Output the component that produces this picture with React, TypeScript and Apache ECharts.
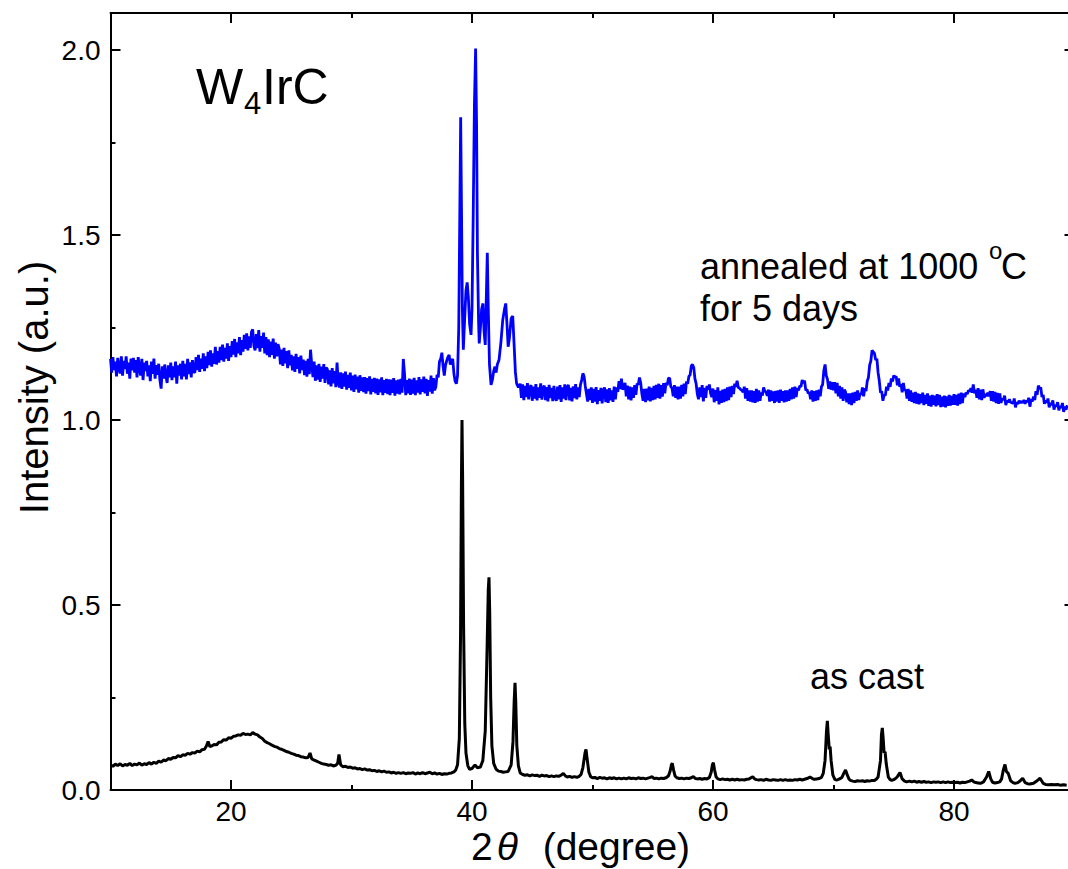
import React, { useEffect, useRef } from "react";
import * as echarts from "echarts";

// ---- tick values ----
const xTicks = [20, 40, 60, 80];
const xMinorTicks = [30, 50, 70];
const yTicks = [0, 0.5, 1.0, 1.5, 2.0];
const yMinorTicks = [0.25, 0.75, 1.25, 1.75];

// ---- series: as cast (black) [2theta, intensity] ----
const asCast: number[][] = [
  [10.0, 0.068], [10.2, 0.064], [10.4, 0.07], [10.6, 0.066], [10.8, 0.071], [11.0, 0.065], [11.2, 0.069],
  [11.4, 0.067], [11.6, 0.072], [11.8, 0.066], [12.0, 0.07], [12.2, 0.068], [12.4, 0.073], [12.6, 0.067],
  [12.8, 0.071], [13.0, 0.069], [13.2, 0.074], [13.4, 0.07], [13.6, 0.075], [13.8, 0.072], [14.0, 0.078],
  [14.2, 0.075], [14.4, 0.081], [14.6, 0.079], [14.8, 0.085], [15.0, 0.083], [15.2, 0.088], [15.4, 0.087],
  [15.6, 0.093], [15.8, 0.09], [16.0, 0.095], [16.2, 0.094], [16.4, 0.099], [16.6, 0.097], [16.8, 0.101],
  [17.0, 0.1], [17.2, 0.105], [17.4, 0.103], [17.6, 0.109], [17.8, 0.11], [17.95, 0.118], [18.1, 0.131],
  [18.25, 0.117], [18.4, 0.119], [18.6, 0.123], [18.8, 0.122], [19.0, 0.129], [19.2, 0.13], [19.4, 0.136],
  [19.6, 0.135], [19.8, 0.141], [20.0, 0.14], [20.2, 0.145], [20.4, 0.146], [20.6, 0.149], [20.8, 0.148],
  [21.0, 0.153], [21.2, 0.15], [21.4, 0.151], [21.6, 0.149], [21.8, 0.155], [22.0, 0.151], [22.2, 0.149],
  [22.4, 0.143], [22.6, 0.139], [22.8, 0.132], [23.0, 0.128], [23.2, 0.125], [23.4, 0.121], [23.6, 0.118],
  [23.8, 0.116], [24.0, 0.112], [24.2, 0.11], [24.4, 0.107], [24.6, 0.104], [24.8, 0.102], [25.0, 0.099],
  [25.2, 0.097], [25.4, 0.094], [25.6, 0.093], [25.8, 0.09], [26.0, 0.089], [26.2, 0.087], [26.4, 0.088],
  [26.56, 0.1], [26.7, 0.084], [26.9, 0.081], [27.1, 0.078], [27.3, 0.075], [27.5, 0.072], [27.7, 0.07],
  [27.9, 0.069], [28.1, 0.067], [28.3, 0.068], [28.5, 0.065], [28.7, 0.067], [28.85, 0.072], [28.96, 0.096],
  [29.1, 0.068], [29.3, 0.063], [29.5, 0.064], [29.7, 0.061], [29.9, 0.062], [30.1, 0.059], [30.3, 0.06],
  [30.5, 0.057], [30.7, 0.058], [30.9, 0.055], [31.1, 0.057], [31.3, 0.054], [31.5, 0.055], [31.7, 0.052],
  [31.9, 0.053], [32.1, 0.05], [32.3, 0.052], [32.5, 0.049], [32.7, 0.051], [32.9, 0.048], [33.1, 0.049],
  [33.3, 0.046], [33.5, 0.048], [33.7, 0.045], [33.9, 0.047], [34.1, 0.045], [34.3, 0.047], [34.5, 0.044],
  [34.7, 0.046], [34.9, 0.045], [35.1, 0.047], [35.3, 0.043], [35.5, 0.046], [35.7, 0.044], [35.9, 0.047],
  [36.1, 0.044], [36.3, 0.046], [36.5, 0.048], [36.7, 0.044], [36.9, 0.046], [37.1, 0.043], [37.3, 0.045],
  [37.5, 0.042], [37.7, 0.044], [37.9, 0.043], [38.1, 0.045], [38.3, 0.046], [38.5, 0.049], [38.65, 0.054],
  [38.8, 0.068], [38.95, 0.14], [39.05, 0.42], [39.12, 0.82], [39.17, 1.0], [39.22, 0.85], [39.3, 0.45],
  [39.4, 0.18], [39.5, 0.1], [39.65, 0.066], [39.8, 0.056], [40.0, 0.058], [40.25, 0.068], [40.45, 0.06],
  [40.7, 0.062], [40.9, 0.08], [41.1, 0.16], [41.25, 0.38], [41.35, 0.54], [41.41, 0.575], [41.47, 0.48],
  [41.55, 0.25], [41.65, 0.12], [41.8, 0.072], [42.0, 0.056], [42.2, 0.051], [42.4, 0.05], [42.6, 0.048],
  [42.8, 0.049], [43.0, 0.05], [43.25, 0.068], [43.4, 0.13], [43.5, 0.24], [43.57, 0.29], [43.63, 0.24],
  [43.72, 0.12], [43.85, 0.065], [44.0, 0.046], [44.2, 0.042], [44.4, 0.04], [44.6, 0.041], [44.8, 0.038],
  [45.0, 0.041], [45.2, 0.039], [45.4, 0.04], [45.6, 0.037], [45.8, 0.04], [46.0, 0.038], [46.2, 0.039],
  [46.4, 0.036], [46.6, 0.038], [46.8, 0.036], [47.0, 0.038], [47.2, 0.037], [47.4, 0.04], [47.58, 0.045],
  [47.75, 0.038], [47.9, 0.035], [48.1, 0.037], [48.3, 0.034], [48.5, 0.036], [48.7, 0.034], [48.9, 0.037],
  [49.05, 0.042], [49.2, 0.06], [49.38, 0.1], [49.46, 0.11], [49.55, 0.085], [49.7, 0.048], [49.85, 0.036],
  [50.0, 0.033], [50.2, 0.034], [50.4, 0.031], [50.6, 0.034], [50.8, 0.032], [51.0, 0.033], [51.2, 0.03],
  [51.4, 0.033], [51.6, 0.031], [51.8, 0.033], [52.0, 0.03], [52.2, 0.032], [52.4, 0.03], [52.6, 0.032],
  [52.8, 0.03], [53.0, 0.033], [53.2, 0.031], [53.4, 0.032], [53.6, 0.03], [53.8, 0.033], [54.0, 0.031],
  [54.2, 0.032], [54.4, 0.03], [54.6, 0.032], [54.8, 0.034], [54.95, 0.036], [55.1, 0.031], [55.3, 0.032],
  [55.5, 0.03], [55.7, 0.032], [55.9, 0.031], [56.1, 0.033], [56.3, 0.038], [56.45, 0.052], [56.55, 0.068],
  [56.62, 0.072], [56.72, 0.055], [56.85, 0.038], [57.0, 0.033], [57.2, 0.031], [57.4, 0.032], [57.6, 0.03],
  [57.8, 0.032], [58.0, 0.031], [58.2, 0.033], [58.37, 0.036], [58.55, 0.031], [58.7, 0.03], [58.9, 0.031],
  [59.1, 0.029], [59.3, 0.031], [59.5, 0.03], [59.7, 0.034], [59.85, 0.048], [59.95, 0.068], [60.03, 0.074],
  [60.12, 0.056], [60.25, 0.036], [60.4, 0.03], [60.6, 0.028], [60.8, 0.03], [61.0, 0.028], [61.2, 0.029],
  [61.4, 0.027], [61.6, 0.029], [61.8, 0.027], [62.0, 0.029], [62.2, 0.027], [62.4, 0.028], [62.6, 0.027],
  [62.8, 0.029], [63.0, 0.03], [63.15, 0.033], [63.3, 0.036], [63.45, 0.03], [63.6, 0.028], [63.8, 0.027],
  [64.0, 0.028], [64.2, 0.026], [64.4, 0.029], [64.6, 0.027], [64.8, 0.026], [65.0, 0.028], [65.2, 0.027],
  [65.4, 0.026], [65.6, 0.028], [65.8, 0.026], [66.0, 0.028], [66.2, 0.026], [66.4, 0.027], [66.6, 0.026],
  [66.8, 0.028], [67.0, 0.027], [67.2, 0.029], [67.4, 0.027], [67.6, 0.029], [67.8, 0.031], [68.05, 0.035],
  [68.25, 0.031], [68.4, 0.029], [68.6, 0.03], [68.8, 0.031], [69.0, 0.034], [69.15, 0.045], [69.3, 0.08],
  [69.42, 0.16], [69.49, 0.187], [69.56, 0.15], [69.65, 0.11], [69.72, 0.117], [69.8, 0.08], [69.95, 0.04],
  [70.12, 0.028], [70.3, 0.027], [70.5, 0.03], [70.7, 0.034], [70.85, 0.045], [71.0, 0.054], [71.15, 0.04],
  [71.3, 0.029], [71.4, 0.026], [71.6, 0.024], [71.8, 0.023], [72.0, 0.025], [72.2, 0.024], [72.4, 0.025],
  [72.6, 0.023], [72.8, 0.025], [73.0, 0.024], [73.2, 0.026], [73.4, 0.026], [73.55, 0.029], [73.7, 0.035],
  [73.9, 0.08], [73.98, 0.15], [74.05, 0.168], [74.12, 0.14], [74.2, 0.1], [74.28, 0.104], [74.38, 0.07],
  [74.55, 0.035], [74.7, 0.028], [74.83, 0.026], [75.0, 0.028], [75.15, 0.031], [75.3, 0.036], [75.52, 0.047],
  [75.7, 0.03], [75.9, 0.024], [76.07, 0.022], [76.3, 0.024], [76.5, 0.022], [76.7, 0.024], [76.9, 0.021],
  [77.1, 0.023], [77.3, 0.021], [77.5, 0.023], [77.7, 0.021], [77.9, 0.022], [78.1, 0.02], [78.3, 0.022],
  [78.5, 0.021], [78.7, 0.022], [78.9, 0.02], [79.1, 0.022], [79.3, 0.02], [79.5, 0.022], [79.7, 0.02],
  [79.9, 0.021], [80.1, 0.02], [80.3, 0.021], [80.5, 0.019], [80.7, 0.021], [80.9, 0.02], [81.1, 0.022],
  [81.3, 0.024], [81.47, 0.027], [81.65, 0.022], [81.8, 0.02], [82.0, 0.019], [82.2, 0.018], [82.45, 0.022],
  [82.7, 0.035], [82.88, 0.05], [83.05, 0.03], [83.2, 0.021], [83.4, 0.019], [83.6, 0.02], [83.8, 0.022],
  [83.95, 0.03], [84.1, 0.055], [84.23, 0.069], [84.35, 0.05], [84.5, 0.045], [84.7, 0.025], [84.9, 0.02],
  [85.06, 0.018], [85.3, 0.02], [85.5, 0.025], [85.7, 0.032], [85.9, 0.02], [86.1, 0.017], [86.3, 0.016],
  [86.6, 0.018], [86.9, 0.025], [87.14, 0.032], [87.4, 0.018], [87.6, 0.015], [87.83, 0.014], [88.1, 0.015],
  [88.3, 0.014], [88.6, 0.015], [88.8, 0.013], [89.1, 0.014], [89.35, 0.013],
];

// ---- series: annealed at 1000 C for 5 days (blue) ----
const annealed: number[][] = [
  [10.0, 1.165], [10.1, 1.128], [10.2, 1.17], [10.3, 1.135], [10.4, 1.158], [10.5, 1.118], [10.6, 1.168], [10.7, 1.142], [10.8, 1.126], [10.9, 1.172],
  [11.0, 1.12], [11.1, 1.16], [11.2, 1.138], [11.3, 1.172], [11.4, 1.125], [11.5, 1.155], [11.6, 1.112], [11.7, 1.166], [11.8, 1.134], [11.9, 1.168],
  [12.0, 1.128], [12.1, 1.162], [12.2, 1.115], [12.3, 1.17], [12.4, 1.14], [12.5, 1.12], [12.6, 1.165], [12.7, 1.108], [12.8, 1.155], [12.9, 1.132],
  [13.0, 1.16], [13.1, 1.118], [13.2, 1.148], [13.3, 1.105], [13.4, 1.158], [13.5, 1.125], [13.6, 1.166], [13.7, 1.112], [13.8, 1.148], [13.9, 1.122],
  [14.0, 1.152], [14.1, 1.108], [14.2, 1.085], [14.3, 1.145], [14.4, 1.112], [14.5, 1.15], [14.6, 1.118], [14.7, 1.1], [14.8, 1.148], [14.9, 1.115],
  [15.0, 1.155], [15.1, 1.108], [15.2, 1.145], [15.3, 1.115], [15.4, 1.158], [15.5, 1.098], [15.6, 1.148], [15.7, 1.12], [15.8, 1.152], [15.9, 1.11],
  [16.0, 1.16], [16.1, 1.118], [16.2, 1.152], [16.3, 1.11], [16.4, 1.165], [16.5, 1.124], [16.6, 1.156], [16.7, 1.115], [16.8, 1.162], [16.9, 1.13],
  [17.0, 1.128], [17.1, 1.17], [17.2, 1.135], [17.3, 1.176], [17.4, 1.13], [17.5, 1.166], [17.6, 1.138], [17.7, 1.18], [17.8, 1.132], [17.9, 1.172],
  [18.0, 1.14], [18.1, 1.184], [18.2, 1.148], [18.3, 1.188], [18.4, 1.144], [18.5, 1.18], [18.6, 1.152], [18.7, 1.198], [18.8, 1.15], [18.9, 1.186],
  [19.0, 1.155], [19.1, 1.198], [19.2, 1.162], [19.3, 1.204], [19.4, 1.158], [19.5, 1.195], [19.6, 1.166], [19.7, 1.207], [19.8, 1.16], [19.9, 1.2],
  [20.0, 1.17], [20.1, 1.213], [20.2, 1.177], [20.3, 1.219], [20.4, 1.17], [20.5, 1.21], [20.6, 1.18], [20.7, 1.224], [20.8, 1.175], [20.9, 1.216],
  [21.0, 1.185], [21.1, 1.23], [21.2, 1.192], [21.3, 1.234], [21.4, 1.188], [21.5, 1.226], [21.6, 1.195], [21.7, 1.238], [21.8, 1.245], [21.9, 1.2],
  [22.0, 1.188], [22.1, 1.232], [22.2, 1.194], [22.3, 1.243], [22.4, 1.185], [22.5, 1.227], [22.6, 1.195], [22.7, 1.236], [22.8, 1.18], [22.9, 1.224],
  [23.0, 1.175], [23.1, 1.218], [23.2, 1.17], [23.3, 1.212], [23.4, 1.176], [23.5, 1.22], [23.6, 1.166], [23.7, 1.209], [23.8, 1.172], [23.9, 1.205],
  [24.0, 1.193], [24.1, 1.15], [24.2, 1.19], [24.3, 1.146], [24.4, 1.195], [24.5, 1.153], [24.6, 1.186], [24.7, 1.14], [24.8, 1.188], [24.9, 1.148],
  [25.0, 1.176], [25.1, 1.134], [25.2, 1.172], [25.3, 1.13], [25.4, 1.179], [25.5, 1.138], [25.6, 1.17], [25.7, 1.126], [25.8, 1.174], [25.9, 1.135],
  [26.0, 1.163], [26.1, 1.121], [26.2, 1.16], [26.3, 1.117], [26.4, 1.165], [26.5, 1.124], [26.6, 1.19], [26.7, 1.15], [26.8, 1.116], [26.9, 1.158],
  [27.0, 1.106], [27.1, 1.148], [27.2, 1.109], [27.3, 1.152], [27.4, 1.103], [27.5, 1.144], [27.6, 1.112], [27.7, 1.151], [27.8, 1.1], [27.9, 1.142],
  [28.0, 1.137], [28.1, 1.096], [28.2, 1.134], [28.3, 1.091], [28.4, 1.14], [28.5, 1.099], [28.6, 1.132], [28.7, 1.089], [28.8, 1.155], [28.9, 1.1],
  [29.0, 1.088], [29.1, 1.129], [29.2, 1.084], [29.3, 1.126], [29.4, 1.09], [29.5, 1.131], [29.6, 1.082], [29.7, 1.122], [29.8, 1.087], [29.9, 1.128],
  [30.0, 1.08], [30.1, 1.12], [30.2, 1.076], [30.3, 1.123], [30.4, 1.083], [30.5, 1.117], [30.6, 1.074], [30.7, 1.121], [30.8, 1.079], [30.9, 1.115],
  [31.0, 1.075], [31.1, 1.116], [31.2, 1.071], [31.3, 1.113], [31.4, 1.078], [31.5, 1.118], [31.6, 1.069], [31.7, 1.111], [31.8, 1.076], [31.9, 1.114],
  [32.0, 1.072], [32.1, 1.112], [32.2, 1.068], [32.3, 1.11], [32.4, 1.075], [32.5, 1.115], [32.6, 1.067], [32.7, 1.108], [32.8, 1.073], [32.9, 1.111],
  [33.0, 1.07], [33.1, 1.11], [33.2, 1.067], [33.3, 1.109], [33.4, 1.073], [33.5, 1.113], [33.6, 1.066], [33.7, 1.107], [33.8, 1.071], [33.9, 1.109],
  [34.0, 1.069], [34.1, 1.111], [34.2, 1.074], [34.3, 1.165], [34.4, 1.125], [34.5, 1.067], [34.6, 1.108], [34.7, 1.072], [34.8, 1.112], [34.9, 1.068],
  [35.0, 1.109], [35.1, 1.071], [35.2, 1.114], [35.3, 1.067], [35.4, 1.107], [35.5, 1.074], [35.6, 1.116], [35.7, 1.069], [35.8, 1.11], [35.9, 1.076],
  [36.0, 1.117], [36.1, 1.072], [36.2, 1.111], [36.3, 1.065], [36.4, 1.108], [36.5, 1.077], [36.6, 1.12], [36.7, 1.071], [36.8, 1.113], [36.9, 1.08],
  [37.0, 1.09], [37.1, 1.122], [37.2, 1.115], [37.3, 1.158], [37.4, 1.165], [37.5, 1.182], [37.6, 1.145], [37.7, 1.12], [37.8, 1.148], [37.9, 1.16],
  [38.0, 1.17], [38.1, 1.176], [38.2, 1.15], [38.3, 1.158], [38.4, 1.165], [38.5, 1.125], [38.6, 1.105], [38.7, 1.098], [38.8, 1.12],
  [38.9, 1.25], [39.0, 1.6], [39.06, 1.818], [39.12, 1.6], [39.2, 1.3], [39.28, 1.19], [39.4, 1.28], [39.5, 1.35],
  [39.6, 1.372], [39.7, 1.33], [39.8, 1.26], [39.92, 1.23], [40.0, 1.3], [40.1, 1.55], [40.2, 1.85], [40.3, 2.004],
  [40.38, 1.8], [40.45, 1.45], [40.55, 1.26], [40.6, 1.207], [40.7, 1.25], [40.8, 1.3], [40.91, 1.315], [41.0, 1.24],
  [41.1, 1.203], [41.18, 1.32], [41.27, 1.452], [41.35, 1.3], [41.45, 1.15], [41.58, 1.095], [41.7, 1.11], [41.8, 1.132],
  [41.9, 1.144], [42.0, 1.128], [42.1, 1.15], [42.24, 1.162], [42.4, 1.21], [42.55, 1.27], [42.7, 1.3], [42.8, 1.315],
  [42.9, 1.26], [43.0, 1.198], [43.1, 1.22], [43.25, 1.275], [43.38, 1.281], [43.5, 1.2], [43.6, 1.13], [43.7, 1.099],
  [43.85, 1.088],
  [44.0, 1.098], [44.1, 1.06], [44.2, 1.096], [44.3, 1.054], [44.4, 1.092], [44.5, 1.062], [44.6, 1.1], [44.7, 1.056], [44.8, 1.088], [44.9, 1.094],
  [45.0, 1.052], [45.1, 1.09], [45.2, 1.058], [45.3, 1.097], [45.4, 1.053], [45.5, 1.088], [45.6, 1.06], [45.7, 1.099], [45.8, 1.055], [45.9, 1.086],
  [46.0, 1.093], [46.1, 1.054], [46.2, 1.089], [46.3, 1.05], [46.4, 1.095], [46.5, 1.059], [46.6, 1.087], [46.7, 1.051], [46.8, 1.092], [46.9, 1.06],
  [47.0, 1.052], [47.1, 1.09], [47.2, 1.056], [47.3, 1.094], [47.4, 1.049], [47.5, 1.088], [47.6, 1.058], [47.7, 1.096], [47.8, 1.054], [47.9, 1.089],
  [48.0, 1.095], [48.1, 1.053], [48.2, 1.087], [48.3, 1.05], [48.4, 1.091], [48.5, 1.059], [48.6, 1.097], [48.7, 1.056], [48.8, 1.088], [48.9, 1.062],
  [49.0, 1.095], [49.1, 1.108], [49.2, 1.126], [49.3, 1.118], [49.4, 1.092], [49.5, 1.07], [49.6, 1.05], [49.7, 1.084], [49.8, 1.054], [49.9, 1.088],
  [50.0, 1.046], [50.1, 1.084], [50.2, 1.05], [50.3, 1.089], [50.4, 1.043], [50.5, 1.081], [50.6, 1.052], [50.7, 1.087], [50.8, 1.045], [50.9, 1.08],
  [51.0, 1.088], [51.1, 1.048], [51.2, 1.083], [51.3, 1.046], [51.4, 1.086], [51.5, 1.053], [51.6, 1.08], [51.7, 1.049], [51.8, 1.09], [51.9, 1.056],
  [52.0, 1.088], [52.1, 1.076], [52.2, 1.105], [52.3, 1.084], [52.4, 1.112], [52.5, 1.082], [52.6, 1.09], [52.7, 1.1], [52.8, 1.064], [52.9, 1.093],
  [53.0, 1.056], [53.1, 1.09], [53.2, 1.053], [53.3, 1.088], [53.4, 1.06], [53.5, 1.094], [53.6, 1.068], [53.7, 1.098], [53.8, 1.096], [53.9, 1.115],
  [54.0, 1.1], [54.1, 1.07], [54.2, 1.052], [54.3, 1.084], [54.4, 1.048], [54.5, 1.085], [54.6, 1.053], [54.7, 1.09], [54.8, 1.05], [54.9, 1.087],
  [55.0, 1.054], [55.1, 1.092], [55.2, 1.056], [55.3, 1.095], [55.4, 1.06], [55.5, 1.098], [55.6, 1.058], [55.7, 1.094], [55.8, 1.063], [55.9, 1.1],
  [56.0, 1.072], [56.1, 1.1], [56.2, 1.094], [56.3, 1.112], [56.4, 1.114], [56.5, 1.09], [56.6, 1.086], [56.7, 1.064], [56.8, 1.094], [56.9, 1.06],
  [57.0, 1.09], [57.1, 1.056], [57.2, 1.09], [57.3, 1.058], [57.4, 1.095], [57.5, 1.064], [57.6, 1.098], [57.7, 1.07], [57.8, 1.104], [57.9, 1.098],
  [58.0, 1.118], [58.1, 1.122], [58.2, 1.146], [58.3, 1.15], [58.4, 1.142], [58.5, 1.112], [58.6, 1.098], [58.7, 1.07], [58.8, 1.056], [58.9, 1.088],
  [59.0, 1.062], [59.1, 1.094], [59.2, 1.05], [59.3, 1.087], [59.4, 1.06], [59.5, 1.092], [59.6, 1.082], [59.7, 1.096], [59.8, 1.072], [59.9, 1.062],
  [60.0, 1.085], [60.1, 1.048], [60.2, 1.081], [60.3, 1.052], [60.4, 1.088], [60.5, 1.042], [60.6, 1.079], [60.7, 1.046], [60.8, 1.082], [60.9, 1.048],
  [61.0, 1.084], [61.1, 1.051], [61.2, 1.088], [61.3, 1.054], [61.4, 1.09], [61.5, 1.062], [61.6, 1.092], [61.7, 1.07], [61.8, 1.098], [61.9, 1.09],
  [62.0, 1.106], [62.1, 1.088], [62.2, 1.086], [62.3, 1.082], [62.4, 1.08], [62.5, 1.075], [62.6, 1.09], [62.7, 1.058], [62.8, 1.086], [62.9, 1.052],
  [63.0, 1.08], [63.1, 1.05], [63.2, 1.08], [63.3, 1.048], [63.4, 1.078], [63.5, 1.046], [63.6, 1.084], [63.7, 1.05], [63.8, 1.08], [63.9, 1.052],
  [64.0, 1.074], [64.1, 1.066], [64.2, 1.088], [64.3, 1.078], [64.4, 1.076], [64.5, 1.065], [64.6, 1.082], [64.7, 1.05], [64.8, 1.08], [64.9, 1.052],
  [65.0, 1.077], [65.1, 1.046], [65.2, 1.079], [65.3, 1.05], [65.4, 1.08], [65.5, 1.046], [65.6, 1.082], [65.7, 1.052], [65.8, 1.078], [65.9, 1.048],
  [66.0, 1.08], [66.1, 1.05], [66.2, 1.08], [66.3, 1.052], [66.4, 1.084], [66.5, 1.056], [66.6, 1.088], [66.7, 1.058], [66.8, 1.09], [66.9, 1.062],
  [67.0, 1.086], [67.1, 1.08], [67.2, 1.092], [67.3, 1.09], [67.4, 1.108], [67.5, 1.1], [67.6, 1.106], [67.7, 1.08], [67.8, 1.083], [67.9, 1.072],
  [68.0, 1.075], [68.1, 1.056], [68.2, 1.08], [68.3, 1.05], [68.4, 1.078], [68.5, 1.052], [68.6, 1.08], [68.7, 1.054], [68.8, 1.082], [68.9, 1.064],
  [69.0, 1.09], [69.1, 1.096], [69.2, 1.134], [69.3, 1.15], [69.4, 1.12], [69.5, 1.11], [69.6, 1.084], [69.7, 1.104], [69.8, 1.082], [69.9, 1.102],
  [70.0, 1.08], [70.1, 1.102], [70.2, 1.072], [70.3, 1.1], [70.4, 1.064], [70.5, 1.092], [70.6, 1.058], [70.7, 1.088], [70.8, 1.052], [70.9, 1.082],
  [71.0, 1.076], [71.1, 1.048], [71.2, 1.072], [71.3, 1.043], [71.4, 1.072], [71.5, 1.04], [71.6, 1.074], [71.7, 1.046], [71.8, 1.076], [71.9, 1.052],
  [72.0, 1.08], [72.1, 1.054], [72.2, 1.072], [72.3, 1.068], [72.4, 1.088], [72.5, 1.064], [72.6, 1.086], [72.7, 1.078], [72.8, 1.105], [72.9, 1.115],
  [73.0, 1.148], [73.1, 1.16], [73.2, 1.188], [73.3, 1.184], [73.4, 1.18], [73.5, 1.162], [73.6, 1.166], [73.7, 1.128], [73.8, 1.106], [73.9, 1.074],
  [74.0, 1.078], [74.1, 1.052], [74.2, 1.068], [74.3, 1.066], [74.4, 1.09], [74.5, 1.08], [74.6, 1.1], [74.7, 1.09], [74.8, 1.112], [74.9, 1.104],
  [75.0, 1.12], [75.1, 1.116], [75.2, 1.118], [75.3, 1.094], [75.4, 1.112], [75.5, 1.09], [75.6, 1.097], [75.7, 1.075], [75.8, 1.1], [75.9, 1.08],
  [76.0, 1.082], [76.1, 1.058], [76.2, 1.084], [76.3, 1.052], [76.4, 1.08], [76.5, 1.049], [76.6, 1.074], [76.7, 1.046], [76.8, 1.076], [76.9, 1.044],
  [77.0, 1.072], [77.1, 1.042], [77.2, 1.07], [77.3, 1.046], [77.4, 1.074], [77.5, 1.04], [77.6, 1.068], [77.7, 1.044], [77.8, 1.072], [77.9, 1.038],
  [78.0, 1.066], [78.1, 1.036], [78.2, 1.068], [78.3, 1.041], [78.4, 1.066], [78.5, 1.037], [78.6, 1.07], [78.7, 1.04], [78.8, 1.068], [78.9, 1.035],
  [79.0, 1.063], [79.1, 1.036], [79.2, 1.066], [79.3, 1.034], [79.4, 1.064], [79.5, 1.038], [79.6, 1.068], [79.7, 1.039], [79.8, 1.065], [79.9, 1.041],
  [80.0, 1.07], [80.1, 1.041], [80.2, 1.068], [80.3, 1.039], [80.4, 1.071], [80.5, 1.043], [80.6, 1.074], [80.7, 1.046], [80.8, 1.072], [80.9, 1.062],
  [81.0, 1.074], [81.1, 1.07], [81.2, 1.08], [81.3, 1.077], [81.4, 1.086], [81.5, 1.074], [81.6, 1.096], [81.7, 1.072], [81.8, 1.082], [81.9, 1.06],
  [82.0, 1.086], [82.1, 1.056], [82.2, 1.082], [82.3, 1.054], [82.4, 1.083], [82.5, 1.06], [82.6, 1.07], [82.7, 1.065], [82.8, 1.074], [82.9, 1.064],
  [83.0, 1.078], [83.1, 1.052], [83.2, 1.078], [83.3, 1.05], [83.4, 1.076], [83.5, 1.046], [83.6, 1.073], [83.7, 1.044], [83.8, 1.072], [83.9, 1.046],
  [84.0, 1.058], [84.1, 1.054], [84.2, 1.066], [84.3, 1.04], [84.4, 1.053], [84.5, 1.048], [84.6, 1.056], [84.7, 1.047], [84.8, 1.048], [84.9, 1.044],
  [85.0, 1.058], [85.1, 1.034], [85.2, 1.048], [85.3, 1.043], [85.4, 1.052], [85.5, 1.046], [85.6, 1.05], [85.7, 1.047], [85.8, 1.054], [85.9, 1.044],
  [86.0, 1.053], [86.1, 1.048], [86.2, 1.06], [86.3, 1.036], [86.4, 1.056], [86.5, 1.05], [86.6, 1.063], [86.7, 1.054], [86.8, 1.078], [86.9, 1.068],
  [87.0, 1.093], [87.1, 1.084], [87.2, 1.088], [87.3, 1.062], [87.4, 1.068], [87.5, 1.044], [87.6, 1.053], [87.7, 1.047], [87.8, 1.058], [87.9, 1.034],
  [88.0, 1.046], [88.1, 1.04], [88.2, 1.053], [88.3, 1.028], [88.4, 1.04], [88.5, 1.036], [88.6, 1.048], [88.7, 1.026], [88.8, 1.038], [88.9, 1.033],
  [89.0, 1.046], [89.1, 1.022], [89.2, 1.036], [89.3, 1.028], [89.4, 1.04],
];

const FONT = "'Liberation Sans', Arial, sans-serif";

export default function App() {
  const ref = useRef<HTMLDivElement>(null);

  useEffect(() => {
    if (!ref.current) return;
    const chart = echarts.init(ref.current, null, { renderer: "svg" });

    const xRange = { type: "value" as const, min: 10, max: 90, gridIndex: 0 };
    const yRange = { type: "value" as const, min: 0, max: 2.1, gridIndex: 0 };
    const lineSt = { color: "#000", width: 2 };

    const majorX = (position: "bottom" | "top", labels: boolean) => ({
      ...xRange,
      position,
      axisLine: { show: true, onZero: false, lineStyle: lineSt },
      axisTick: { show: true, inside: true, length: 10, customValues: xTicks, lineStyle: lineSt },
      axisLabel: labels
        ? { show: true, customValues: xTicks, fontSize: 28, lineHeight: 18, color: "#000", fontFamily: FONT, margin: 12 }
        : { show: false },
      splitLine: { show: false },
    });
    const minorX = (position: "bottom" | "top") => ({
      ...xRange,
      position,
      axisLine: { show: false, onZero: false },
      axisTick: { show: true, inside: true, length: 5, customValues: xMinorTicks, lineStyle: lineSt },
      axisLabel: { show: false },
      splitLine: { show: false },
    });
    const majorY = (position: "left" | "right", labels: boolean) => ({
      ...yRange,
      position,
      axisLine: { show: true, onZero: false, lineStyle: lineSt },
      axisTick: { show: true, inside: true, length: 10, customValues: yTicks, lineStyle: lineSt },
      axisLabel: labels
        ? {
            show: true,
            customValues: yTicks,
            fontSize: 28,
            color: "#000",
            fontFamily: FONT,
            margin: 10,
            formatter: (v: number) => v.toFixed(1),
          }
        : { show: false },
      splitLine: { show: false },
    });
    const minorY = (position: "left" | "right") => ({
      ...yRange,
      position,
      axisLine: { show: false, onZero: false },
      axisTick: { show: true, inside: true, length: 5, customValues: yMinorTicks, lineStyle: lineSt },
      axisLabel: { show: false },
      splitLine: { show: false },
    });

    chart.setOption({
      animation: false,
      backgroundColor: "#fff",
      grid: { left: 110.5, right: -6.5, top: 13, bottom: 79, outerBoundsMode: "none" },
      xAxis: [
        {
          ...majorX("bottom", true),
          name: "2{i|θ} (degree)",
          nameLocation: "middle",
          nameGap: 37,
          nameMoveOverlap: false,
          nameTextStyle: {
            fontSize: 39,
            lineHeight: 39,
            fontFamily: FONT,
            color: "#000",
            verticalAlign: "top",
            padding: [0, 24, 0, 0],
            rich: {
              i: { fontSize: 39, lineHeight: 39, fontFamily: FONT, fontStyle: "italic", color: "#000", padding: [0, 14, 0, 4] },
            },
          },
        },
        minorX("bottom"),
        majorX("top", false),
        minorX("top"),
      ],
      yAxis: [
        {
          ...majorY("left", true),
          name: "Intensity (a.u.)",
          nameLocation: "middle",
          nameGap: 57,
          nameRotate: 90,
          nameMoveOverlap: false,
          nameTextStyle: { fontSize: 40, fontFamily: FONT, color: "#000", padding: [0, 0, 0, 28] },
        },
        minorY("left"),
        majorY("right", false),
        minorY("right"),
      ],
      series: [
        {
          name: "as cast",
          type: "line",
          xAxisIndex: 0,
          yAxisIndex: 0,
          data: asCast,
          showSymbol: false,
          symbol: "none",
          lineStyle: { color: "#000", width: 3 },
          itemStyle: { color: "#000" },
        },
        {
          name: "annealed at 1000 °C for 5 days",
          type: "line",
          xAxisIndex: 0,
          yAxisIndex: 0,
          data: annealed,
          showSymbol: false,
          symbol: "none",
          lineStyle: { color: "#0000ff", width: 2.8 },
          itemStyle: { color: "#0000ff" },
        },
      ],
      graphic: [
        { type: "text", left: 196, top: 62, style: { text: "W", fontSize: 50, fontFamily: FONT, fill: "#000" } },
        { type: "text", left: 244, top: 88, style: { text: "4", fontSize: 31, fontFamily: FONT, fill: "#000" } },
        { type: "text", left: 262, top: 62, style: { text: "IrC", fontSize: 50, fontFamily: FONT, fill: "#000" } },
        { type: "text", left: 700, top: 248, style: { text: "annealed at 1000 ", fontSize: 36, fontFamily: FONT, fill: "#000" } },
        { type: "text", left: 989, top: 238, style: { text: "o", fontSize: 24, fontFamily: FONT, fill: "#000" } },
        { type: "text", left: 1001, top: 248, style: { text: "C", fontSize: 36, fontFamily: FONT, fill: "#000" } },
        { type: "text", left: 700, top: 290, style: { text: "for 5 days", fontSize: 36, fontFamily: FONT, fill: "#000" } },
        { type: "text", left: 810, top: 658, style: { text: "as cast", fontSize: 36, fontFamily: FONT, fill: "#000" } },
      ],
    });

    return () => chart.dispose();
  }, []);

  return (
    <div
      ref={ref}
      style={{ position: "fixed", left: 0, top: 0, width: 1068, height: 869, background: "#fff" }}
    />
  );
}
